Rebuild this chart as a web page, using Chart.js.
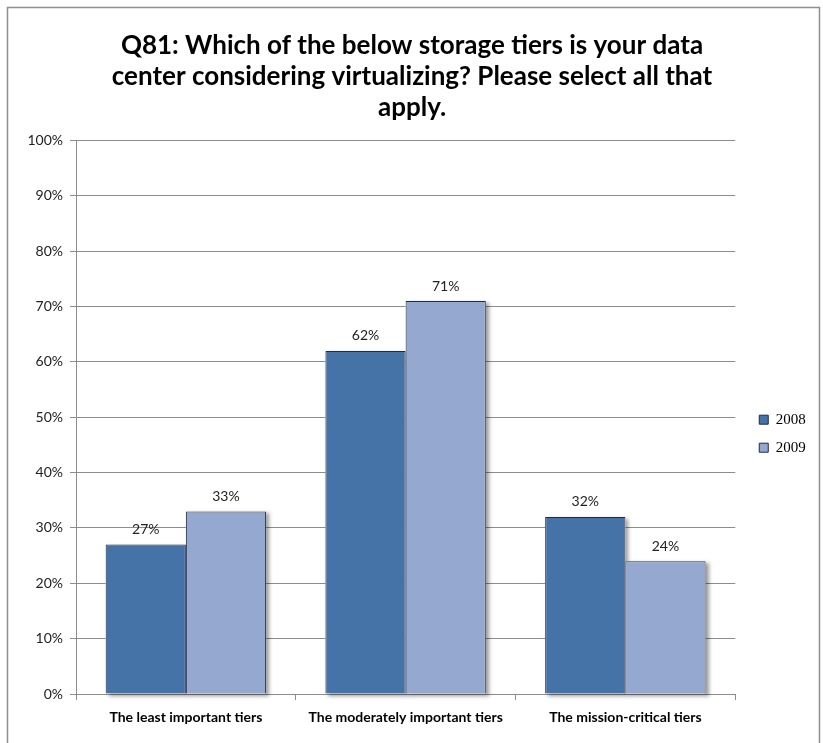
<!DOCTYPE html>
<html>
<head>
<meta charset="utf-8">
<title>Q81 storage tiers</title>
<script src="https://cdn.jsdelivr.net/npm/chart.js@4/dist/chart.umd.min.js"></script>
<style>
  html, body { margin: 0; padding: 0; background: #fff; }
  #wrap { width: 823px; height: 743px; position: relative; }
</style>
</head>
<body>
<div id="wrap"><canvas id="tiersChart"></canvas></div>
<script>
// Survey answers, percent of respondents
const categories = ['The least important tiers', 'The moderately important tiers', 'The mission-critical tiers'];
const seriesNames = ['2008', '2009'];
const values2008 = [27, 62, 32];
const values2009 = [33, 71, 24];
const yTicks = [0, 10, 20, 30, 40, 50, 60, 70, 80, 90, 100];

const FONT = 'Lato, "Noto Sans", sans-serif';

// white page with the grey frame around the chart
const framePlugin = {
    id: 'frame',
    beforeDraw(chart) {
        const ctx = chart.ctx;
        ctx.save();
        ctx.fillStyle = '#fff';
        ctx.fillRect(0, 0, chart.width, chart.height);
        ctx.strokeStyle = '#8f8f8f';
        ctx.lineWidth = 1.5;
        ctx.strokeRect(7.5, 7.5, 812, 760);
        ctx.restore();
    }
};

// leave a wider gap between the plot and the legend
const legendShift = {
    id: 'legendShift',
    afterLayout(chart) {
        if (chart.legend) {
            chart.legend.left += 11;
            chart.legend.right += 11;
        }
    }
};

// soft drop shadow behind all bars, painted before the bars themselves
const shadowPlugin = {
    id: 'barShadow',
    beforeDatasetsDraw(chart) {
        const ctx = chart.ctx;
        ctx.save();
        ctx.fillStyle = '#fff';
        ctx.shadowColor = 'rgba(0,0,0,0.4)';
        ctx.shadowBlur = 4;
        ctx.shadowOffsetX = 3;
        ctx.shadowOffsetY = 2;
        chart.data.datasets.forEach((ds, i) => {
            chart.getDatasetMeta(i).data.forEach(bar => {
                const p = bar.getProps(['x', 'y', 'base', 'width'], true);
                ctx.fillRect(p.x - p.width / 2, p.y, p.width, p.base - p.y);
            });
        });
        ctx.restore();
    }
};

// value labels above each bar
const valueLabels = {
    id: 'valueLabels',
    afterDatasetsDraw(chart) {
        const ctx = chart.ctx;
        ctx.save();
        ctx.font = '14px ' + FONT;
        ctx.fillStyle = '#222';
        ctx.textAlign = 'center';
        ctx.textBaseline = 'bottom';
        chart.data.datasets.forEach((ds, i) => {
            chart.getDatasetMeta(i).data.forEach((bar, j) => {
                ctx.fillText(ds.data[j] + '%', bar.x, bar.y - 8);
            });
        });
        ctx.restore();
    }
};

const ctx = document.getElementById('tiersChart').getContext('2d');
const tiersChart = new Chart(ctx, {
    type: 'bar',
    data: {
        labels: categories,
        datasets: [{
            label: seriesNames[0],
            data: values2008,
            backgroundColor: '#4572a7',
            borderColor: '#1f2b40',
            borderWidth: 1
        }, {
            label: seriesNames[1],
            data: values2009,
            backgroundColor: '#95a8d0',
            borderColor: '#1f2b40',
            borderWidth: 1
        }]
    },
    options: {
        responsive: true,
        maintainAspectRatio: false,
        animation: false,
        layout: { padding: { left: 8, right: 7, top: 8, bottom: 9 } },
        datasets: {
            bar: { categoryPercentage: 0.73, barPercentage: 1.0 }
        },
        plugins: {
            title: {
                display: true,
                text: [
                    'Q81: Which of the below storage tiers is your data',
                    'center considering virtualizing? Please select all that',
                    'apply.'
                ],
                color: '#000',
                font: { family: FONT, size: 26, weight: 'bold', lineHeight: 1.2 },
                padding: { top: 22, bottom: 17 }
            },
            legend: {
                position: 'right',
                align: 'center',
                fullSize: false,
                title: {
                    display: true,
                    text: ' ',
                    font: { size: 4 },
                    padding: { top: 28, bottom: 0 }
                },
                labels: {
                    color: '#000',
                    font: { family: '"Liberation Serif", serif', size: 15 },
                    boxWidth: 9,
                    boxHeight: 9,
                    padding: 13,
                    sort: (a, b) => a.datasetIndex - b.datasetIndex,
                    // a little room after the year keeps the legend column wide
                    generateLabels(chart) {
                        const items = Chart.defaults.plugins.legend.labels.generateLabels(chart);
                        items.forEach(it => { it.text = it.text + '\u00a0\u00a0\u00a0'; });
                        return items;
                    }
                }
            },
            tooltip: { enabled: false }
        },
        scales: {
            x: {
                grid: {
                    drawOnChartArea: false,
                    drawTicks: true,
                    tickLength: 6,
                    color: '#8c8c8c'
                },
                border: { color: '#8c8c8c' },
                ticks: {
                    color: '#000',
                    padding: 9,
                    font: { family: FONT, size: 14, weight: 'bold' }
                },
                afterFit(scale) { scale.height = 40; }
            },
            y: {
                min: 0,
                max: 100,
                afterBuildTicks(scale) {
                    scale.ticks = yTicks.map(v => ({ value: v }));
                },
                grid: {
                    color: '#8c8c8c',
                    tickLength: 6
                },
                border: { color: '#8c8c8c' },
                ticks: {
                    color: '#222',
                    padding: 7,
                    font: { family: FONT, size: 14 },
                    callback: v => v + '%'
                },
                afterFit(scale) { scale.width = 68; }
            }
        }
    },
    plugins: [framePlugin, legendShift, shadowPlugin, valueLabels]
});
</script>
</body>
</html>
